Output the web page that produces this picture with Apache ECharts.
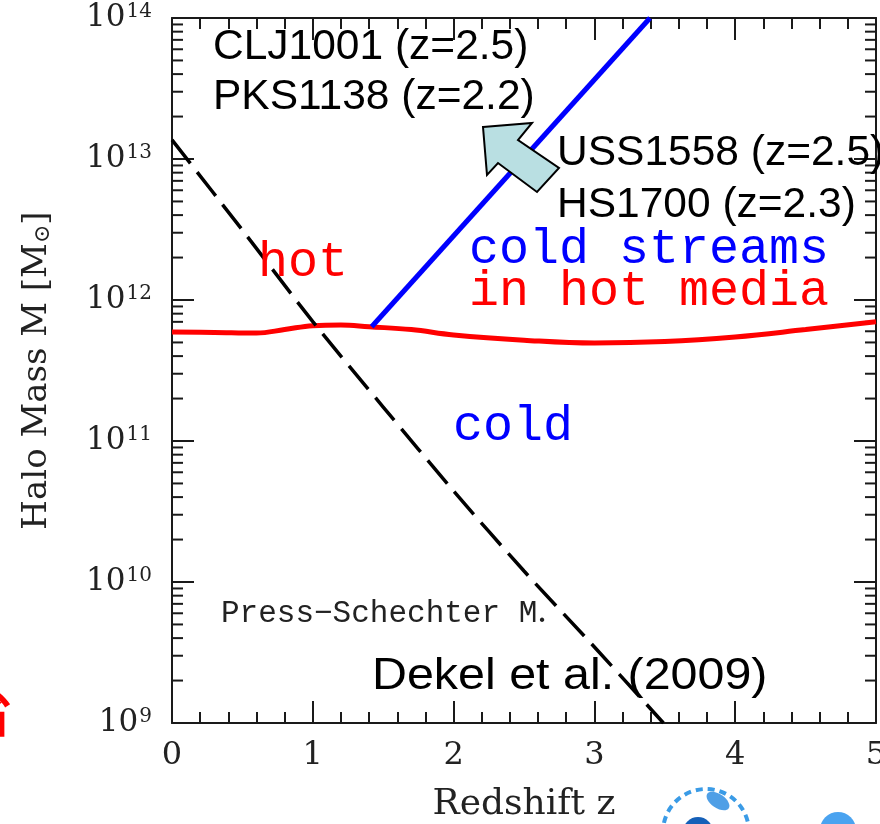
<!DOCTYPE html>
<html><head><meta charset="utf-8">
<script src="https://cdn.jsdelivr.net/npm/echarts@6/dist/echarts.min.js"></script>
<style>html,body{margin:0;padding:0;background:#fff;overflow:hidden}#c{width:880px;height:824px}</style>
</head><body><div id="c"></div>
<script>
// ---- data ----
const xTickLabels = ['0', '1', '2', '3', '4', '5'];
const yDecades = [9, 10, 11, 12, 13, 14];
const minorMultipliers = [2, 3, 4, 5, 6, 7, 8, 9];
// hot/cold threshold mass (red)
const thresholdZ = [0, 0.3, 0.6, 0.8, 1.0, 1.2, 1.4, 1.7, 2.0, 2.5, 3.0, 3.5, 4.0, 4.5, 5.0];
const thresholdM = [5.93e11, 5.89e11, 5.83e11, 6.17e11, 6.58e11, 6.65e11, 6.46e11, 6.17e11, 5.65e11, 5.19e11, 4.95e11, 5.07e11, 5.47e11, 6.17e11, 7.0e11];
// cold streams boundary (blue)
const streamZ = [1.418, 3.395];
const streamM = [6.46e11, 1e14];
// Press-Schechter M* (black dashed)
const psZ = [0, 0.5, 1.0, 1.5, 2.0, 2.5, 3.0, 3.49];
const psM = [1.365e13, 3.13e12, 7.03e11, 1.742e11, 4.42e10, 1.197e10, 3.46e9, 1.0e9];

const pairs = (xs, ys) => xs.map((x, i) => [x, ys[i]]);
const minorTickValues = [];
yDecades.slice(0, -1).forEach(d => minorMultipliers.forEach(m => minorTickValues.push([0, m * Math.pow(10, d)])));

const SERIF = '"DejaVu Serif", serif';
const MONO = '"Liberation Mono", monospace';
const SANS = '"Liberation Sans", Arial, sans-serif';
const AX = '#1a1a1a';

const chart = echarts.init(document.getElementById('c'), null, { renderer: 'canvas' });

const xAxisBase = {
  type: 'value', min: 0, max: 5, interval: 1,
  axisLine: { show: true, onZero: false, lineStyle: { color: AX, width: 2 } },
  axisTick: { show: true, inside: true, length: 22, lineStyle: { color: AX, width: 2 } },
  minorTick: { show: true, splitNumber: 5, length: 11, lineStyle: { color: AX, width: 2 } },
  splitLine: { show: false }, minorSplitLine: { show: false }
};
const yAxisBase = {
  type: 'log', logBase: 10, min: 1e9, max: 1e14,
  axisLine: { show: true, onZero: false, lineStyle: { color: AX, width: 2 } },
  axisTick: { show: true, inside: true, length: 22, lineStyle: { color: AX, width: 2 } },
  splitLine: { show: false }
};

const option = {
  backgroundColor: '#fff',
  animation: false,
  grid: { left: 172, top: 18, width: 704, height: 705, containLabel: false, outerBoundsMode: 'none' },
  xAxis: [
    Object.assign({}, xAxisBase, {
      position: 'bottom',
      name: 'Redshift z', nameLocation: 'middle', nameGap: 64,
      nameTextStyle: { fontFamily: SERIF, fontSize: 36, color: '#222' },
      axisLabel: { show: true, margin: 17, fontFamily: SERIF, fontSize: 32, color: '#222',
        formatter: v => xTickLabels[Math.round(v)] }
    }),
    Object.assign({}, xAxisBase, { position: 'top', axisLabel: { show: false } })
  ],
  yAxis: [
    Object.assign({}, yAxisBase, {
      position: 'left',
      name: 'Halo Mass M [M{sub|⊙}]', nameLocation: 'middle', nameGap: 118, nameRotate: 90,
      nameTextStyle: { fontFamily: SERIF, fontSize: 34, color: '#222',
        rich: { sub: { fontFamily: SERIF, fontSize: 22, color: '#222', padding: [12, 0, 0, 0] } } },
      axisLabel: { show: true, margin: 20, color: '#222',
        formatter: v => '{b|10}{s|' + Math.round(Math.log10(v)) + '}',
        rich: {
          b: { fontFamily: SERIF, fontSize: 31, color: '#222' },
          s: { fontFamily: SERIF, fontSize: 20, color: '#222', padding: [0, 0, 12, 1] }
        } }
    }),
    Object.assign({}, yAxisBase, { position: 'right', axisLabel: { show: false } })
  ],
  series: [
    {
      type: 'custom', xAxisIndex: 0, yAxisIndex: 0, silent: true, z: 1,
      encode: { x: 0, y: 1 },
      data: minorTickValues,
      renderItem: (params, api) => {
        const v = api.value(1);
        const pL = api.coord([0, v]);
        const pR = api.coord([5, v]);
        const st = { stroke: AX, lineWidth: 2 };
        return { type: 'group', children: [
          { type: 'line', shape: { x1: pL[0], y1: pL[1], x2: pL[0] + 11, y2: pL[1] }, style: st },
          { type: 'line', shape: { x1: pR[0], y1: pR[1], x2: pR[0] - 11, y2: pR[1] }, style: st }
        ] };
      }
    },
    {
      name: 'threshold', type: 'line', smooth: 0.4, symbol: 'none', z: 3,
      data: pairs(thresholdZ, thresholdM),
      lineStyle: { color: '#ff0000', width: 5 }
    },
    {
      name: 'streams', type: 'line', symbol: 'none', z: 3,
      data: pairs(streamZ, streamM),
      lineStyle: { color: '#0000ff', width: 5 }
    },
    {
      name: 'PS', type: 'line', smooth: 0.3, symbol: 'none', z: 4,
      data: pairs(psZ, psM),
      lineStyle: { color: '#000', width: 3.5, type: [30, 11] }
    }
  ],
  graphic: [
    { type: 'text', x: 213, y: 47, z: 5, style: { text: 'CLJ1001 (z=2.5)', fontFamily: SANS, fontSize: 42.5, fill: '#000', align: 'left', verticalAlign: 'middle' } },
    { type: 'text', x: 213, y: 97, z: 5, style: { text: 'PKS1138 (z=2.2)', fontFamily: SANS, fontSize: 42.5, fill: '#000', align: 'left', verticalAlign: 'middle' } },
    { type: 'text', x: 557, y: 153, z: 5, style: { text: 'USS1558 (z=2.5)', fontFamily: SANS, fontSize: 42.5, fill: '#000', align: 'left', verticalAlign: 'middle' } },
    { type: 'text', x: 557, y: 205, z: 5, style: { text: 'HS1700 (z=2.3)', fontFamily: SANS, fontSize: 42.5, fill: '#000', align: 'left', verticalAlign: 'middle' } },
    { type: 'text', x: 372, y: 677, z: 2, scaleX: 1.1, style: { text: 'Dekel et al. (2009)', fontFamily: SANS, fontSize: 44, fill: '#000', align: 'left', verticalAlign: 'middle' } },
    { type: 'text', x: 258, y: 263, z: 5, style: { text: 'hot', fontFamily: MONO, fontSize: 50, fill: '#ff0000', align: 'left', verticalAlign: 'middle' } },
    { type: 'text', x: 469, y: 250, z: 5, style: { text: 'cold streams', fontFamily: MONO, fontSize: 50, fill: '#0000ff', align: 'left', verticalAlign: 'middle' } },
    { type: 'text', x: 469, y: 292, z: 5, style: { text: 'in hot media', fontFamily: MONO, fontSize: 50, fill: '#ff0000', align: 'left', verticalAlign: 'middle' } },
    { type: 'text', x: 453, y: 427, z: 5, style: { text: 'cold', fontFamily: MONO, fontSize: 50, fill: '#0000ff', align: 'left', verticalAlign: 'middle' } },
    { type: 'text', x: 221, y: 614, z: 5, style: { text: 'Press−Schechter M{sub|•}', fontFamily: MONO, fontSize: 31, fill: '#222', align: 'left', verticalAlign: 'middle',
        rich: { sub: { fontFamily: MONO, fontSize: 16, fill: '#222', padding: [14, 0, 0, 0] } } } },
    { type: 'polygon', z: 10, shape: { points: [[483, 127], [532, 123], [518, 140], [559, 168], [537, 192], [498, 163], [487, 175]] },
      style: { fill: '#b9dfe2', stroke: '#000', lineWidth: 2 } },
    { type: 'text', x: -36, y: 714, z: 5, style: { text: '省', fontFamily: '"Noto Sans CJK SC"', fontWeight: 'bold', fontSize: 48, fill: '#ff0000', align: 'left', verticalAlign: 'middle' } },
    { type: 'circle', z: 5, shape: { cx: 706, cy: 832, r: 43 }, style: { fill: 'none', stroke: '#3a9be6', lineWidth: 4, lineDash: [7, 5] } },
    { type: 'ellipse', z: 5, rotation: -0.6, x: 718, y: 801, shape: { cx: 0, cy: 0, rx: 13, ry: 7 }, style: { fill: '#4f9fe6' } },
    { type: 'circle', z: 5, shape: { cx: 698, cy: 832, r: 15 }, style: { fill: '#1560b8' } },
    { type: 'circle', z: 5, shape: { cx: 838, cy: 830, r: 18 }, style: { fill: '#4aa3f0' } }
  ]
};
chart.setOption(option);
</script>
</body></html>
